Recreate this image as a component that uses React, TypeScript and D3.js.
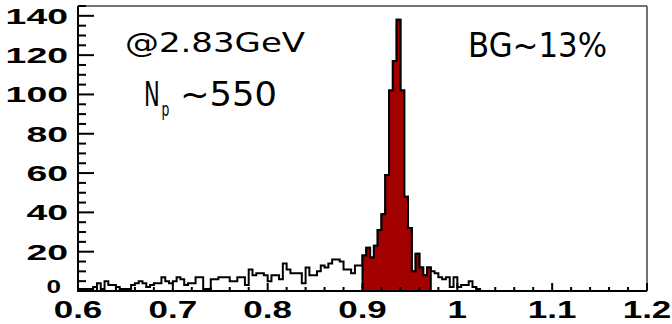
import React from 'react';
import * as d3 from 'd3';

// ---- data ----
const X_DOMAIN: [number, number] = [0.6, 1.2];
const Y_DOMAIN: [number, number] = [0, 145];
const BIN_START = 0.6;
const BIN_WIDTH = 0.004;
// counts per bin (0.004 wide) from 0.6 upward
const counts = [
  1, 1, 1, 1, 2, 4, 1, 5, 3, 3,
  2, 1, 1, 1, 3, 4, 5, 4, 2, 3,
  4, 4, 7, 5, 4, 5, 7, 6, 3, 4,
  4, 7, 7, 1, 1, 6, 6, 7, 7, 7,
  5, 5, 7, 7, 3, 11, 8, 9, 9, 8,
  5, 8, 8, 6, 14, 11, 9, 9, 9, 4,
  12, 8, 8, 10, 13, 12, 14, 16, 16, 15,
  11, 11, 9, 13, 13,
  18, 22, 17, 23, 31, 39, 59, 102, 117, 138,
  102, 48, 32, 10, 19, 12, 8, 12,
  10, 9, 7, 6, 7, 2, 7, 2, 3, 3,
  5, 2, 1, 0,
];
const SIGNAL_RANGE: [number, number] = [0.9, 0.972];
const xTickValues = [0.6, 0.7, 0.8, 0.9, 1.0, 1.1, 1.2];
const xTickLabels = ['0.6', '0.7', '0.8', '0.9', '1', '1.1', '1.2'];
const yTickValues = [0, 20, 40, 60, 80, 100, 120, 140];
const yTickLabels = ['0', '20', '40', '60', '80', '100', '120', '140'];
const energyLabel = '@2.83GeV';
const countLabelMain = 'N';
const countLabelSub = 'p';
const countLabelValue = '~550';
const bgLabel = 'BG~13%';

const W = 672;
const H = 324;
const M = { left: 78, right: 647, top: 6, bottom: 291 };
const RED = '#a30000';

export default function App() {
  const x = d3.scaleLinear().domain(X_DOMAIN).range([M.left, M.right]);
  const y = d3.scaleLinear().domain(Y_DOMAIN).range([M.bottom, M.top]);

  const bins = counts.map((v, i) => ({
    x0: BIN_START + i * BIN_WIDTH,
    x1: BIN_START + (i + 1) * BIN_WIDTH,
    v,
  }));

  const step = d3
    .line<[number, number]>()
    .x((d) => x(d[0]))
    .y((d) => y(d[1]))
    .curve(d3.curveStepAfter);

  const pts = (bs: typeof bins): [number, number][] => {
    const p: [number, number][] = [[bs[0].x0, 0]];
    bs.forEach((b) => p.push([b.x0, b.v]));
    const last = bs[bs.length - 1];
    p.push([last.x1, last.v]);
    p.push([last.x1, 0]);
    return p;
  };

  const eps = 1e-9;
  const sigBins = bins.filter(
    (b) => b.x0 >= SIGNAL_RANGE[0] - eps && b.x1 <= SIGNAL_RANGE[1] + eps
  );

  const allPath = step(pts(bins)) || '';
  const sigPath = (step(pts(sigBins)) || '') + 'Z';

  const xMinor = d3.range(0.6, 1.2 + 1e-9, 0.02);
  const yMinor = d3.range(0, 145 + 1e-9, 5);

  const tickFont = {
    fontFamily: '"Liberation Sans", Arial, sans-serif',
    fontWeight: 700 as const,
    fontSize: 22,
  };
  const annFont = { fontFamily: '"DejaVu Sans", sans-serif' };

  return (
    <svg
      width={W}
      height={H}
      style={{ position: 'absolute', left: 0, top: 0, background: '#fff' }}
    >
      <rect x={0} y={0} width={W} height={H} fill="#fff" />
      {/* histogram outline */}
      <path d={allPath} fill="none" stroke="#000" strokeWidth={2} strokeLinejoin="miter" />
      {/* signal region */}
      <path d={sigPath} fill={RED} stroke="#000" strokeWidth={2} strokeLinejoin="miter" />

      {/* frame */}
      <line x1={M.left} x2={M.right} y1={M.top} y2={M.top} stroke="#444" strokeWidth={1.5} />
      <line x1={M.right} x2={M.right} y1={M.top} y2={M.bottom} stroke="#444" strokeWidth={1.5} />
      <line x1={M.left} x2={M.left} y1={M.top} y2={M.bottom + 1} stroke="#000" strokeWidth={2} />
      <line x1={M.left - 1} x2={M.right} y1={M.bottom} y2={M.bottom} stroke="#000" strokeWidth={2} />

      {/* x ticks */}
      {xMinor.map((t, i) => {
        const major = xTickValues.some((v) => Math.abs(v - t) < 1e-6);
        return (
          <line
            key={'xm' + i}
            x1={x(t)}
            x2={x(t)}
            y1={M.bottom}
            y2={M.bottom - (major ? 8 : 4)}
            stroke="#000"
            strokeWidth={2}
          />
        );
      })}
      {/* y ticks */}
      {yMinor.map((t, i) => {
        const major = yTickValues.some((v) => Math.abs(v - t) < 1e-6);
        return (
          <line
            key={'ym' + i}
            x1={M.left}
            x2={M.left + (major ? 16 : 8)}
            y1={y(t)}
            y2={y(t)}
            stroke="#000"
            strokeWidth={2}
          />
        );
      })}

      {/* x labels */}
      {xTickValues.map((v, i) => (
        <text
          key={'xl' + i}
          transform={`translate(${x(v)},${318}) scale(1.52,1)`}
          textAnchor="middle"
          {...tickFont}
          fontSize={23}
        >
          {xTickLabels[i]}
        </text>
      ))}
      {/* y labels */}
      {yTickValues.map((v, i) =>
        v === 0 ? (
          <text
            key={'yl' + i}
            transform={`translate(${61},${293}) scale(1.45,1)`}
            textAnchor="end"
            {...tickFont}
            fontSize={18}
          >
            {yTickLabels[i]}
          </text>
        ) : (
          <text
            key={'yl' + i}
            transform={`translate(${68},${y(v) + 8}) scale(1.7,1)`}
            textAnchor="end"
            {...tickFont}
          >
            {yTickLabels[i]}
          </text>
        )
      )}

      {/* annotations */}
      <text x={125} y={52} fontSize={27} textLength={180} lengthAdjust="spacingAndGlyphs" {...annFont}>
        {energyLabel}
      </text>
      <text transform="translate(144,106) scale(0.62,1)" fontSize={34} {...annFont}>
        {countLabelMain}
        <tspan fontSize={20} dx={3} dy={10}>
          {countLabelSub}
        </tspan>
      </text>
      <text x={180} y={106} fontSize={34} textLength={97} lengthAdjust="spacingAndGlyphs" {...annFont}>
        {countLabelValue}
      </text>
      <text x={468} y={57} fontSize={34} textLength={139} lengthAdjust="spacingAndGlyphs" {...annFont}>
        {bgLabel}
      </text>
    </svg>
  );
}
